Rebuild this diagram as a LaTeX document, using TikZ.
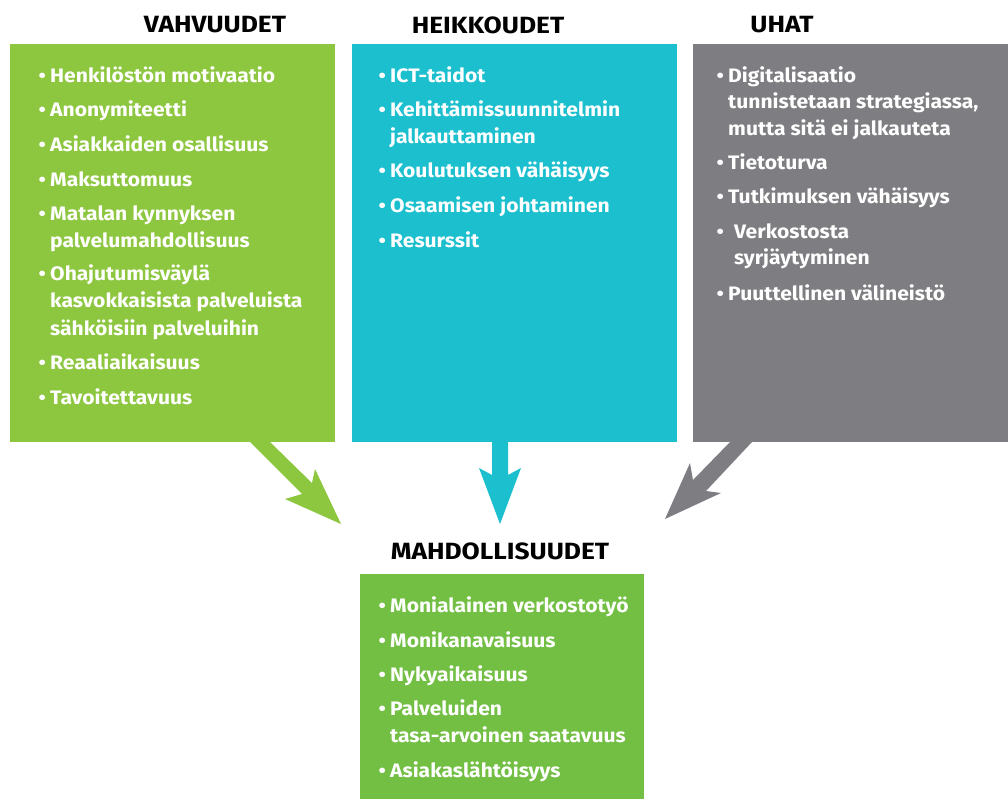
\documentclass[tikz,border=0pt]{standalone}
\usepackage{fontspec}
\setmainfont{Fira Sans}
\newfontfamily\itemfont{Fira Sans}[FakeStretch=1.08]
\newfontfamily\titlefont{Fira Sans}[FakeStretch=1.12]
\definecolor{vgreen}{HTML}{8DC63F}
\definecolor{vcyan}{HTML}{1BBFCE}
\definecolor{vgray}{HTML}{7E7E82}
\definecolor{mgreen}{HTML}{72BF44}
\tikzset{
  title/.style={font=\titlefont\fontsize{23.5}{26}\selectfont\bfseries, text=black, inner sep=0, anchor=center},
  itm/.style={font=\itemfont\fontsize{19.5}{22}\selectfont\bfseries, text=white, inner sep=0, anchor=base west},
  blt/.style={font=\itemfont\fontsize{19.5}{22}\selectfont\bfseries, text=white, inner sep=0, anchor=base east},
}
\begin{document}
\begin{tikzpicture}[x=1pt,y=-1pt]
\useasboundingbox (0,0) rectangle (1008,799);
% boxes
\fill[vgreen] (10,44) rectangle (335,442);
\fill[vcyan] (352,44) rectangle (677,442);
\fill[vgray] (693,44) rectangle (1008,442);
\fill[mgreen] (360,574) rectangle (644,799);
% arrows
\fill[vgreen] (250,442) -- (302,494) -- (285,499) -- (341,524) -- (315,469) -- (312,483) -- (270,442) -- cycle;
\fill[vcyan] (492,442) -- (492,475) -- (479,468) -- (500,524) -- (521,468) -- (508,475) -- (508,442) -- cycle;
\fill[vgray] (730,442) -- (693,480) -- (690,463) -- (665,519) -- (721,493) -- (706,491) -- (752,442) -- cycle;
% titles
\node[title] (tv) at (215,25) {VAHVUUDET};
\node[title] (th) at (488,25) {HEIKKOUDET};
\node[title] (tu) at (782,25) {UHAT};
\node[title] (tm) at (500,551) {MAHDOLLISUUDET};
% vahvuudet
\foreach \y/\t [count=\i] in {83/Henkilöstön motivaatio,117/Anonymiteetti,152/Asiakkaiden osallisuus,187/Maksuttomuus,221/Matalan kynnyksen,281/Ohajutumisväylä,369/Reaaliaikaisuus,404/Tavoitettavuus}{
  \node[blt] (vb\i) at (46,\y) {•};
  \node[itm] (v\i) at (50,\y) {\t};
}
\node[itm] (v5b) at (50,248) {palvelumahdollisuus};
\node[itm] (v6b) at (50,308) {kasvokkaisista palveluista};
\node[itm] (v6c) at (50,335) {sähköisiin palveluihin};
% heikkoudet
\foreach \y/\t [count=\i] in {83/ICT-taidot,117/Kehittämissuunnitelmin,178/Koulutuksen vähäisyys,213/Osaamisen johtaminen,248/Resurssit}{
  \node[blt] (hb\i) at (386,\y) {•};
  \node[itm] (h\i) at (390,\y) {\t};
}
\node[itm] (h2b) at (390,144) {jalkauttaminen};
% uhat
\foreach \y/\t [count=\i] in {83/Digitalisaatio,170/Tietoturva,204/Tutkimuksen vähäisyys,301/Puuttellinen välineistö}{
  \node[blt] (ub\i) at (724,\y) {•};
  \node[itm] (u\i) at (728,\y) {\t};
}
\node[itm] (u1b) at (728,109) {tunnistetaan strategiassa,};
\node[itm] (u1c) at (728,136) {mutta sitä ei jalkauteta};
\node[blt] (ub5) at (724,239) {•};
\node[itm] (u5) at (734,239) {Verkostosta};
\node[itm] (u5b) at (734,265) {syrjäytyminen};
% mahdollisuudet
\foreach \y/\t [count=\i] in {612/Monialainen verkostotyö,647/Monikanavaisuus,681/Nykyaikaisuus,715/Palveluiden,777/Asiakaslähtöisyys}{
  \node[blt] (mb\i) at (386,\y) {•};
  \node[itm] (m\i) at (390,\y) {\t};
}
\node[itm] (m4b) at (390,742) {tasa-arvoinen saatavuus};
\end{tikzpicture}
\end{document}
